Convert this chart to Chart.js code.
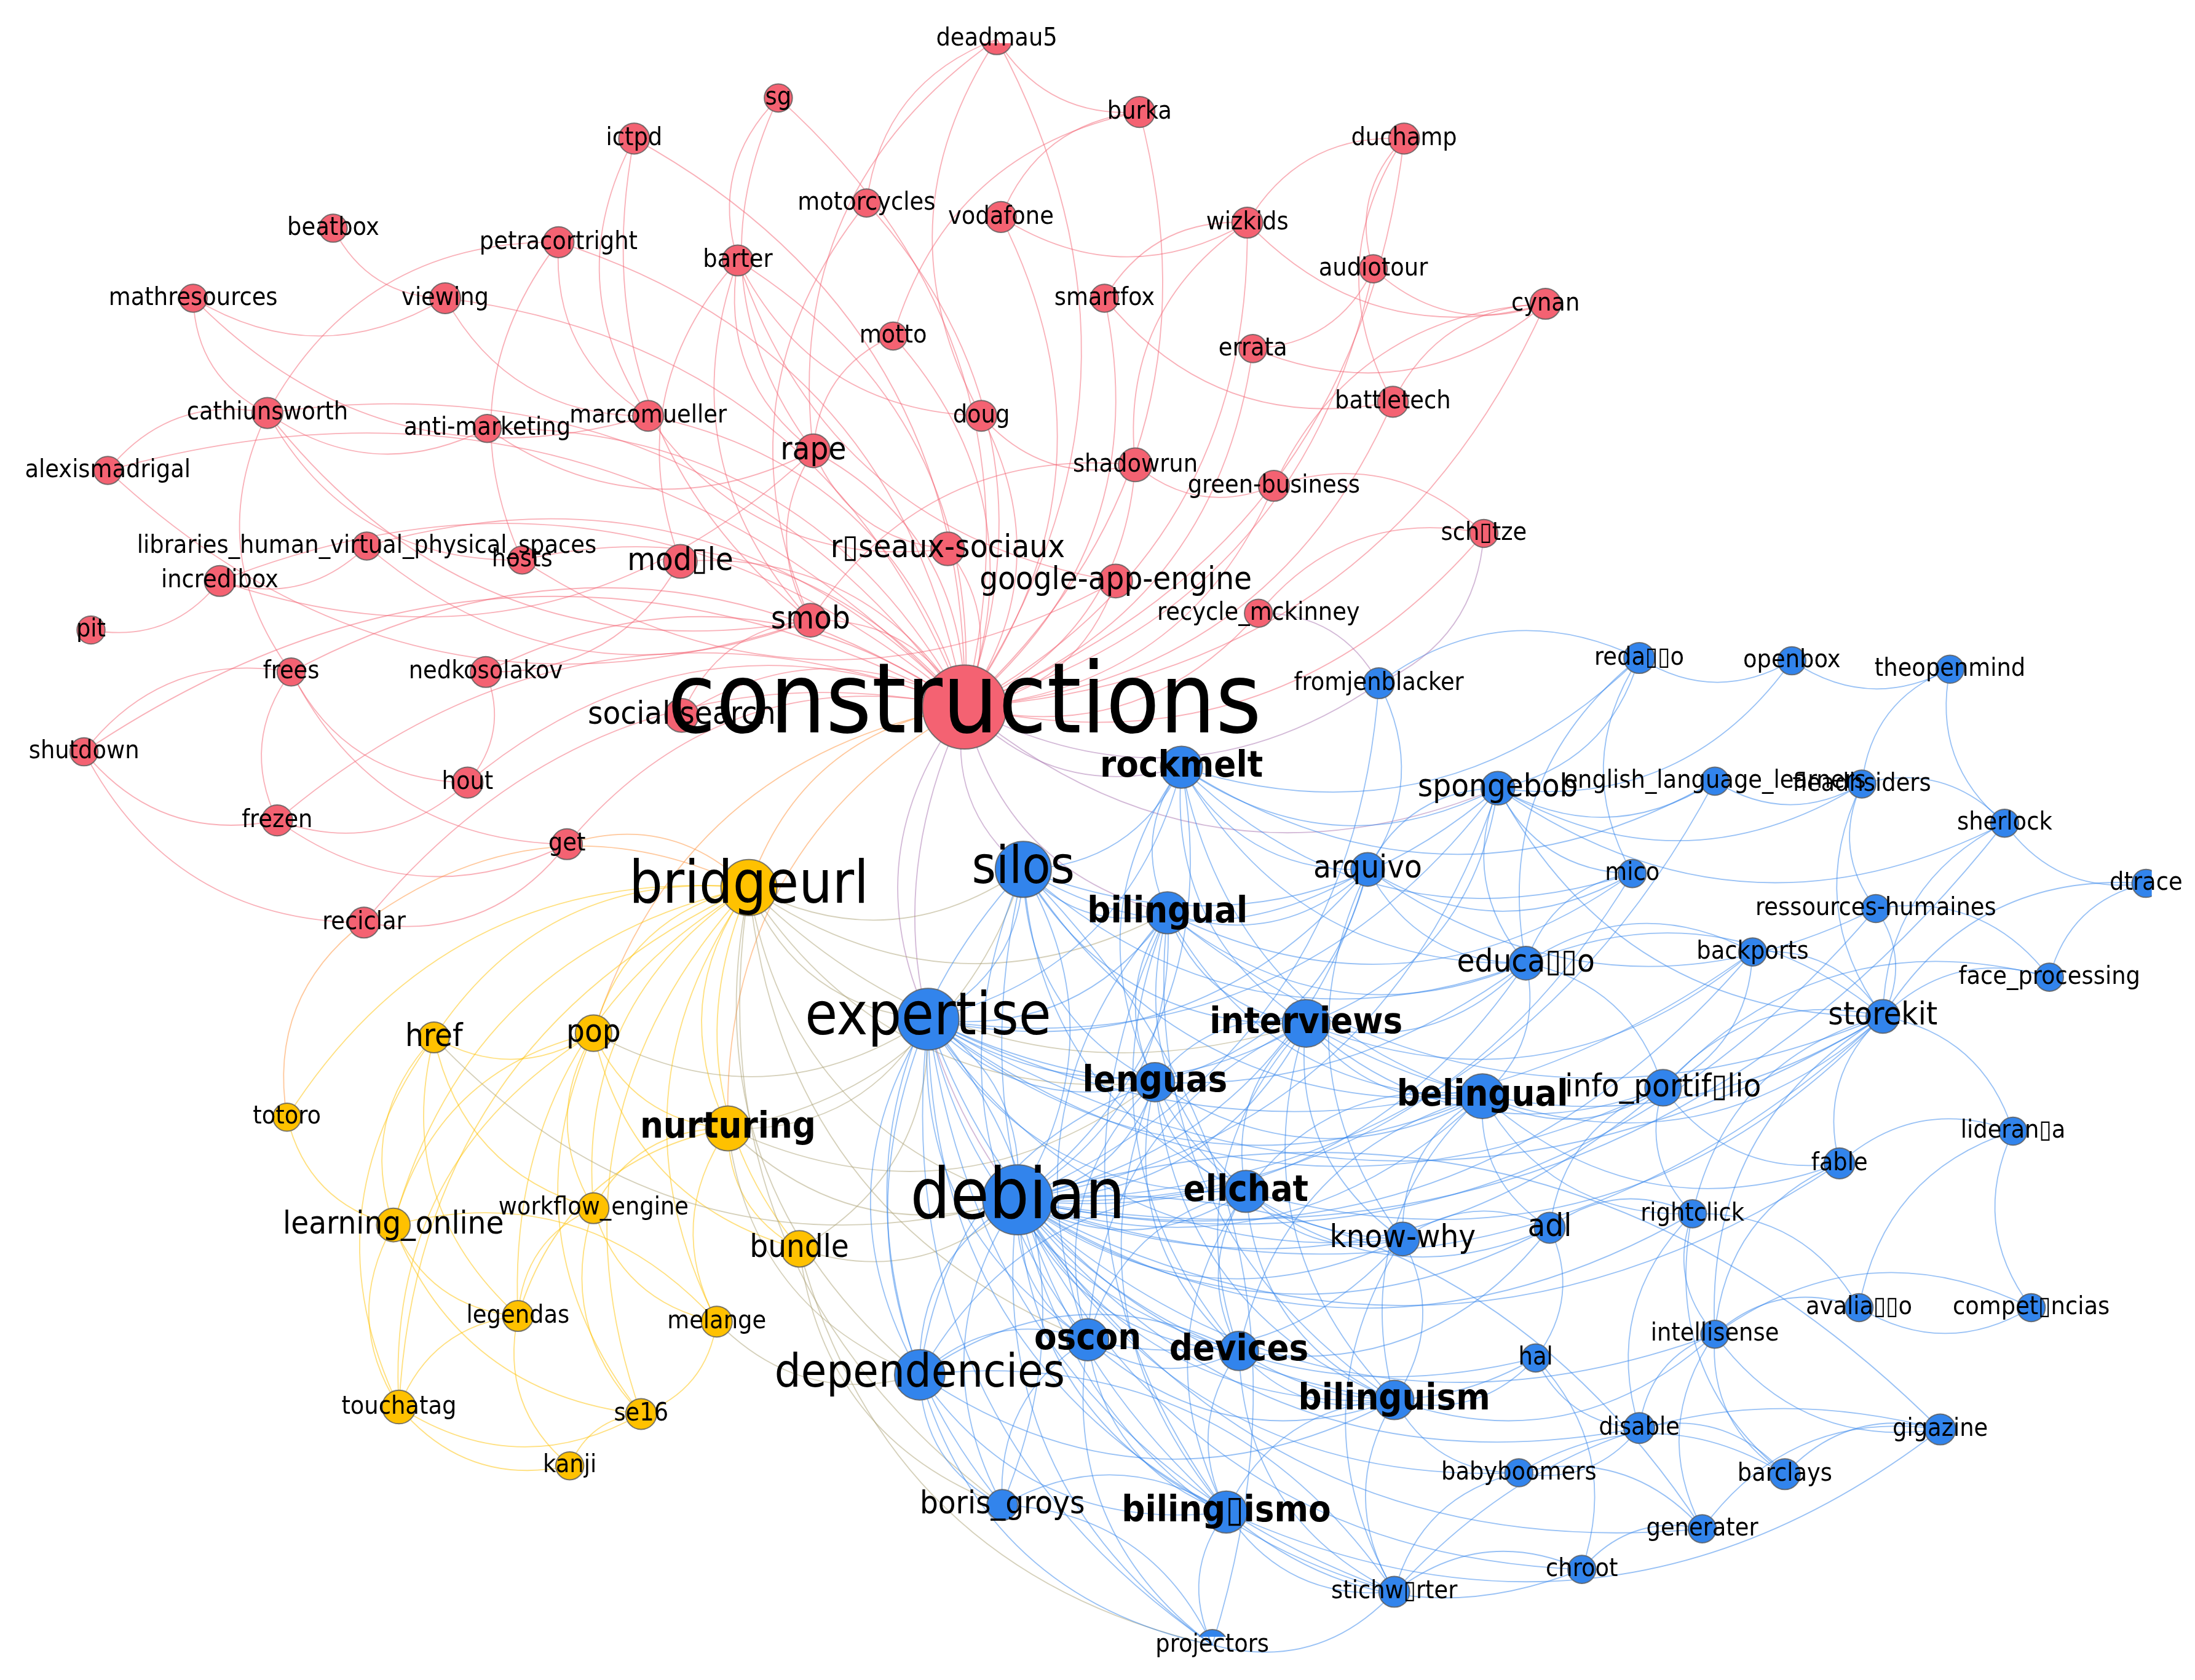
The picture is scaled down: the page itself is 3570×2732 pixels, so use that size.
<!DOCTYPE html>
<html>
<head>
<meta charset="utf-8">
<script src="https://cdn.jsdelivr.net/npm/chart.js@4.4.0/dist/chart.umd.min.js"></script>
<style>
  html, body { margin: 0; padding: 0; background: #fff; }
  #wrap { width: 3570px; height: 2732px; }
</style>
</head>
<body>
<div id="wrap"><canvas id="net"></canvas></div>
<script>
// Nodos: nombre, x, y (coordenadas de la imagen), tamaño, grupo (r/y/b)
const B = '\u25AF';
const nodeNames = ['deadmau5','sg','ictpd','burka','duchamp','motorcycles','vodafone','beatbox','petracortright','barter','wizkids','audiotour','cynan','mathresources','viewing','smartfox','motto','errata','doug','battletech','cathiunsworth','anti-marketing','marcomueller','rape','shadowrun','green-business','alexismadrigal','libraries_human_virtual_physical_spaces','hosts','mod'+B+'le','r'+B+'seaux-sociaux','google-app-engine','sch'+B+'tze','incredibox','pit','smob','recycle_mckinney','frees','nedkosolakov','constructions','social search','shutdown','hout','frezen','get','reciclar',
  'bridgeurl','href','pop','totoro','nurturing','learning_online','workflow_engine','bundle','legendas','melange','touchatag','se16','kanji',
  'fromjenblacker','reda'+B+B+'o','openbox','theopenmind','rockmelt','spongebob','english_language_learners','fleadhsiders','sherlock','silos','arquivo','mico','dtrace','bilingual','ressources-humaines','backports','educa'+B+B+'o','face_processing','expertise','interviews','storekit','lenguas','belingual','info_portif'+B+'lio','lideran'+B+'a','fable','debian','ellchat','know-why','adl','rightclick','avalia'+B+B+'o','compet'+B+'ncias','intellisense','oscon','devices','hal','dependencies','bilinguism','disable','gigazine','babyboomers','barclays','boris_groys','biling'+B+'ismo','generater','chroot','stichw'+B+'rter','projectors'];
const nodeX = [712,556,453,814,1003,619,715,238,399,527,891,981,1104,138,318,789,638,895,701,995,191,348,463,581,811,910,77,262,373,486,677,797,1060,157,65,579,899,208,347,689,487,60,334,198,405,260,
  535,310,424,205,520,281,424,571,370,512,285,458,407,
  985,1171,1280,1393,844,1070,1225,1330,1432,731,977,1166,1533,834,1340,1252,1090,1464,663,933,1345,825,1059,1188,1438,1314,727,890,1002,1107,1209,1328,1451,1225,777,885,1097,657,996,1171,1386,1085,1275,716,876,1216,1130,996,866];
const nodeY = [28,70,99,80,99,145,155,163,173,186,159,192,217,213,213,213,240,249,297,287,295,306,297,322,332,347,336,390,400,401,392,415,381,415,450,443,438,480,480,505,511,537,559,586,603,659,
  634,741,738,798,806,875,863,892,940,944,1005,1010,1047,
  488,470,472,478,548,563,558,560,588,621,621,624,631,652,649,680,688,698,728,731,726,773,783,777,808,831,857,851,885,877,867,934,934,953,957,965,970,982,1000,1020,1021,1052,1053,1075,1080,1092,1121,1137,1175];
const nodeSize = [11,10,11,11,11,10,11,10,11,11,11,10,11,10,11,10,10,10,11,11,11,10,11,12,12,11,10,10,10,12,12,12,10,11,10,12,10,10,11,30,12,10,11,11,11,11,
  20,11,13,10,16,12,11,13,11,11,12,11,10,
  11,11,10,10,15,12,10,10,10,20,12,10,10,15,10,10,12,10,22,17,12,14,16,13,10,11,25,15,12,11,10,10,10,10,15,14,10,18,14,11,11,10,11,11,15,10,10,11,11];
const nodeGroup = ['r','r','r','r','r','r','r','r','r','r','r','r','r','r','r','r','r','r','r','r','r','r','r','r','r','r','r','r','r','r','r','r','r','r','r','r','r','r','r','r','r','r','r','r','r','r',
  'y','y','y','y','y','y','y','y','y','y','y','y','y',
  'b','b','b','b','b','b','b','b','b','b','b','b','b','b','b','b','b','b','b','b','b','b','b','b','b','b','b','b','b','b','b','b','b','b','b','b','b','b','b','b','b','b','b','b','b','b','b','b','b'];
const bigLabels = { 'constructions': 70, 'debian': 50, 'expertise': 42, 'bridgeurl': 42, 'silos': 37, 'dependencies': 33 };
const boldLabels = ['rockmelt','bilingual','interviews','lenguas','belingual','ellchat','oscon','devices','bilinguism','biling'+B+'ismo','nurturing'];
const midLabels = ['spongebob','arquivo','storekit','know-why','educa'+B+B+'o','info_portif'+B+'lio','boris_groys','bundle','learning_online','pop','href','mod'+B+'le','r'+B+'seaux-sociaux','google-app-engine','rape','smob','social search','adl'];

// Aristas por nodo central
const linksConstructions = ['deadmau5','sg','ictpd','burka','duchamp','motorcycles','vodafone','petracortright','barter','wizkids','audiotour','cynan','viewing','smartfox','motto','errata','doug','battletech','cathiunsworth','anti-marketing','marcomueller','rape','shadowrun','green-business','alexismadrigal','libraries_human_virtual_physical_spaces','hosts','mod'+B+'le','r'+B+'seaux-sociaux','google-app-engine','sch'+B+'tze','incredibox','smob','recycle_mckinney','frees','nedkosolakov','social search','shutdown','hout','frezen','get','reciclar','bridgeurl','silos','expertise','debian','rockmelt','fromjenblacker','nurturing','bilingual','pop','spongebob'];
const linksRed = [['deadmau5','motorcycles'],['deadmau5','rape'],['deadmau5','burka'],['deadmau5','doug'],['sg','barter'],['sg','rape'],['ictpd','marcomueller'],['ictpd','smob'],['burka','vodafone'],['burka','motto'],['duchamp','audiotour'],['duchamp','wizkids'],['duchamp','battletech'],['wizkids','cynan'],['wizkids','smartfox'],['wizkids','shadowrun'],['audiotour','cynan'],['cynan','green-business'],['cynan','battletech'],['errata','cynan'],['errata','audiotour'],['petracortright','cathiunsworth'],['petracortright','marcomueller'],['petracortright','hosts'],['mathresources','viewing'],['mathresources','cathiunsworth'],['viewing','marcomueller'],['cathiunsworth','alexismadrigal'],['cathiunsworth','anti-marketing'],['cathiunsworth','hosts'],['cathiunsworth','smob'],['barter','rape'],['barter','smob'],['barter','doug'],['barter','mod'+B+'le'],['barter','google-app-engine'],['motto','rape'],['doug','shadowrun'],['shadowrun','smob'],['shadowrun','green-business'],['pit','incredibox'],['incredibox','libraries_human_virtual_physical_spaces'],['incredibox','rape'],['frees','frezen'],['frees','hout'],['frees','shutdown'],['shutdown','reciclar'],['shutdown','frezen'],['frezen','hout'],['frezen','get'],['hout','nedkosolakov'],['reciclar','get'],['reciclar','totoro'],['sch'+B+'tze','recycle_mckinney'],['sch'+B+'tze','green-business'],['rape','smob'],['rape','r'+B+'seaux-sociaux'],['smartfox','battletech'],['anti-marketing','rape'],['marcomueller','r'+B+'seaux-sociaux'],['libraries_human_virtual_physical_spaces','smob'],['nedkosolakov','mod'+B+'le'],['smob','social search'],['vodafone','wizkids'],['motorcycles','smob'],['hosts','google-app-engine'],['frees','get'],['beatbox','viewing'],['cathiunsworth','frees'],['alexismadrigal','smob'],['mathresources','marcomueller']];
const linksBridgeurl = ['href','pop','totoro','nurturing','learning_online','workflow_engine','bundle','legendas','melange','touchatag','se16','silos','expertise','debian','dependencies','lenguas','interviews','oscon','boris_groys','bilingual','get','reciclar'];
const linksYellow = [['href','pop'],['href','learning_online'],['href','touchatag'],['href','legendas'],['href','workflow_engine'],['pop','nurturing'],['pop','learning_online'],['pop','workflow_engine'],['pop','se16'],['pop','touchatag'],['pop','bundle'],['totoro','learning_online'],['nurturing','workflow_engine'],['nurturing','bundle'],['nurturing','melange'],['nurturing','legendas'],['nurturing','expertise'],['nurturing','debian'],['nurturing','dependencies'],['nurturing','silos'],['nurturing','lenguas'],['learning_online','legendas'],['learning_online','touchatag'],['learning_online','se16'],['workflow_engine','legendas'],['workflow_engine','se16'],['workflow_engine','melange'],['legendas','touchatag'],['legendas','kanji'],['touchatag','se16'],['touchatag','kanji'],['se16','kanji'],['se16','melange'],['melange','dependencies'],['bundle','debian'],['bundle','expertise'],['bundle','projectors'],['bundle','boris_groys'],['melange','learning_online'],['href','debian'],['pop','expertise']];
const linksDebian = ['silos','expertise','rockmelt','bilingual','interviews','lenguas','belingual','ellchat','oscon','devices','dependencies','bilinguism','biling'+B+'ismo','boris_groys','projectors','stichw'+B+'rter','know-why','adl','spongebob','arquivo','educa'+B+B+'o','info_portif'+B+'lio','storekit','mico','hal','disable','babyboomers','intellisense','rightclick','fable','chroot','generater','backports','fromjenblacker','ressources-humaines','english_language_learners'];
const linksExpertise = ['silos','rockmelt','bilingual','interviews','lenguas','belingual','ellchat','oscon','devices','dependencies','bilinguism','biling'+B+'ismo','boris_groys','projectors','know-why','arquivo','spongebob','educa'+B+B+'o','stichw'+B+'rter','info_portif'+B+'lio','storekit'];
const linksHubs = [
  ['silos','rockmelt'],['silos','bilingual'],['silos','interviews'],['silos','lenguas'],['silos','dependencies'],['silos','oscon'],['silos','arquivo'],['silos','spongebob'],['silos','belingual'],['silos','ellchat'],['silos','biling'+B+'ismo'],
  ['rockmelt','bilingual'],['rockmelt','spongebob'],['rockmelt','arquivo'],['rockmelt','interviews'],['rockmelt','reda'+B+B+'o'],['rockmelt','english_language_learners'],['rockmelt','educa'+B+B+'o'],['rockmelt','lenguas'],['rockmelt','belingual'],
  ['bilingual','interviews'],['bilingual','lenguas'],['bilingual','belingual'],['bilingual','ellchat'],['bilingual','arquivo'],['bilingual','oscon'],['bilingual','devices'],['bilingual','bilinguism'],['bilingual','biling'+B+'ismo'],['bilingual','mico'],['bilingual','educa'+B+B+'o'],
  ['interviews','lenguas'],['interviews','belingual'],['interviews','ellchat'],['interviews','know-why'],['interviews','info_portif'+B+'lio'],['interviews','storekit'],['interviews','devices'],['interviews','oscon'],['interviews','bilinguism'],['interviews','educa'+B+B+'o'],['interviews','backports'],
  ['lenguas','belingual'],['lenguas','ellchat'],['lenguas','oscon'],['lenguas','devices'],['lenguas','bilinguism'],['lenguas','biling'+B+'ismo'],['lenguas','dependencies'],['lenguas','know-why'],
  ['belingual','ellchat'],['belingual','know-why'],['belingual','adl'],['belingual','info_portif'+B+'lio'],['belingual','bilinguism'],['belingual','devices'],['belingual','storekit'],['belingual','rightclick'],['belingual','educa'+B+B+'o'],['belingual','fable'],
  ['ellchat','oscon'],['ellchat','devices'],['ellchat','bilinguism'],['ellchat','biling'+B+'ismo'],['ellchat','know-why'],['ellchat','adl'],['ellchat','dependencies'],
  ['oscon','devices'],['oscon','dependencies'],['oscon','bilinguism'],['oscon','biling'+B+'ismo'],['oscon','projectors'],['oscon','boris_groys'],
  ['devices','bilinguism'],['devices','biling'+B+'ismo'],['devices','dependencies'],['devices','stichw'+B+'rter'],['devices','hal'],
  ['dependencies','biling'+B+'ismo'],['dependencies','boris_groys'],['dependencies','projectors'],['dependencies','bilinguism'],
  ['bilinguism','biling'+B+'ismo'],['bilinguism','stichw'+B+'rter'],['bilinguism','babyboomers'],['bilinguism','hal'],['bilinguism','know-why'],['bilinguism','intellisense'],
  ['biling'+B+'ismo','projectors'],['biling'+B+'ismo','stichw'+B+'rter'],['biling'+B+'ismo','boris_groys'],['biling'+B+'ismo','chroot'],['biling'+B+'ismo','gigazine'],
  ['spongebob','arquivo'],['spongebob','english_language_learners'],['spongebob','fleadhsiders'],['spongebob','reda'+B+B+'o'],['spongebob','openbox'],['spongebob','mico'],['spongebob','educa'+B+B+'o'],['spongebob','storekit'],['spongebob','sherlock'],
  ['arquivo','mico'],['arquivo','educa'+B+B+'o'],['arquivo','know-why'],['arquivo','ressources-humaines'],['arquivo','fromjenblacker'],
  ['reda'+B+B+'o','openbox'],['reda'+B+B+'o','mico'],['reda'+B+B+'o','educa'+B+B+'o'],['reda'+B+B+'o','fromjenblacker'],['openbox','theopenmind'],['theopenmind','fleadhsiders'],['theopenmind','sherlock'],
  ['sherlock','dtrace'],['sherlock','storekit'],['sherlock','fleadhsiders'],['dtrace','face_processing'],['dtrace','storekit'],['face_processing','storekit'],['face_processing','info_portif'+B+'lio'],['face_processing','ressources-humaines'],
  ['storekit','info_portif'+B+'lio'],['storekit','fable'],['storekit','backports'],['storekit','educa'+B+B+'o'],['storekit','ressources-humaines'],['storekit','rightclick'],['storekit','intellisense'],
  ['info_portif'+B+'lio','educa'+B+B+'o'],['info_portif'+B+'lio','backports'],['info_portif'+B+'lio','rightclick'],['info_portif'+B+'lio','adl'],['info_portif'+B+'lio','fable'],
  ['lideran'+B+'a','compet'+B+'ncias'],['lideran'+B+'a','avalia'+B+B+'o'],['lideran'+B+'a','storekit'],['lideran'+B+'a','fable'],['avalia'+B+B+'o','compet'+B+'ncias'],['avalia'+B+B+'o','intellisense'],['avalia'+B+B+'o','rightclick'],['compet'+B+'ncias','intellisense'],
  ['rightclick','intellisense'],['rightclick','adl'],['rightclick','disable'],['rightclick','barclays'],['intellisense','barclays'],['intellisense','disable'],['intellisense','gigazine'],['intellisense','generater'],
  ['gigazine','barclays'],['gigazine','stichw'+B+'rter'],['gigazine','generater'],['barclays','disable'],['barclays','babyboomers'],['generater','babyboomers'],['generater','chroot'],['chroot','stichw'+B+'rter'],['chroot','hal'],
  ['babyboomers','disable'],['babyboomers','stichw'+B+'rter'],['hal','disable'],['hal','adl'],['adl','know-why'],['know-why','stichw'+B+'rter'],['projectors','stichw'+B+'rter'],['projectors','boris_groys'],
  ['fromjenblacker','sch'+B+'tze'],['fromjenblacker','recycle_mckinney'],['mico','educa'+B+B+'o'],['backports','educa'+B+B+'o'],['english_language_learners','fleadhsiders'],['fleadhsiders','ressources-humaines'],['fleadhsiders','storekit'],['fable','intellisense'],
  ['boris_groys','expertise'],['projectors','silos'],['stichw'+B+'rter','dependencies'],['generater','debian'],['gigazine','debian'],
  ['interviews','spongebob'],['lenguas','arquivo'],['ellchat','storekit'],['debian','sherlock'],['silos','educa'+B+B+'o'],['expertise','backports'],['bilingual','storekit'],['rockmelt','mico'],['oscon','know-why'],['devices','adl']
];

const COLORS = { r: [244, 98, 114], y: [255, 193, 0], b: [50, 132, 236] };
const S = 3570 / 1568;
const PAD = (30 * S + 2) / S;   // compensa el margen que Chart.js deja por el radio de los puntos
const idx = name => nodeNames.indexOf(name);

const allEdges = [];
linksConstructions.forEach(n => allEdges.push(['constructions', n]));
linksRed.forEach(e => allEdges.push(e));
linksBridgeurl.forEach(n => allEdges.push(['bridgeurl', n]));
linksYellow.forEach(e => allEdges.push(e));
linksDebian.forEach(n => allEdges.push(['debian', n]));
linksExpertise.forEach(n => allEdges.push(['expertise', n]));
linksHubs.forEach(e => allEdges.push(e));

const edgePlugin = {
  id: 'edges',
  beforeDatasetsDraw(chart) {
    const { ctx, scales: { x, y } } = chart;
    ctx.save();
    ctx.lineWidth = 1.8;
    allEdges.forEach(([a, b]) => {
      const i = idx(a), j = idx(b);
      if (i < 0 || j < 0) return;
      const x1 = x.getPixelForValue(nodeX[i]), y1 = y.getPixelForValue(nodeY[i]);
      const x2 = x.getPixelForValue(nodeX[j]), y2 = y.getPixelForValue(nodeY[j]);
      const c1 = COLORS[nodeGroup[i]], c2 = COLORS[nodeGroup[j]];
      let c = c1;
      if (nodeGroup[i] !== nodeGroup[j]) c = [(c1[0] + c2[0]) / 2 + 20, (c1[1] + c2[1]) / 2, (c1[2] + c2[2]) / 2];
      ctx.strokeStyle = `rgba(${c[0]|0},${c[1]|0},${c[2]|0},0.5)`;
      const mx = (x1 + x2) / 2, my = (y1 + y2) / 2;
      const dx = x2 - x1, dy = y2 - y1;
      ctx.beginPath();
      ctx.moveTo(x1, y1);
      ctx.quadraticCurveTo(mx - dy * 0.3, my + dx * 0.3, x2, y2);
      ctx.stroke();
    });
    ctx.restore();
  }
};

const labelPlugin = {
  id: 'labels',
  afterDatasetsDraw(chart) {
    const { ctx, scales: { x, y } } = chart;
    ctx.save();
    ctx.textAlign = 'center';
    ctx.textBaseline = 'middle';
    ctx.fillStyle = '#000';
    nodeNames.forEach((n, i) => {
      let size = 18, weight = 'normal';
      if (bigLabels[n]) size = bigLabels[n];
      else if (boldLabels.includes(n)) { size = 26; weight = 'bold'; }
      else if (midLabels.includes(n)) size = 23;
      ctx.font = `${weight} ${size * S}px "DejaVu Sans Condensed", "DejaVu Sans", sans-serif`;
      ctx.fillText(n, x.getPixelForValue(nodeX[i]), y.getPixelForValue(nodeY[i]));
    });
    ctx.restore();
  }
};

new Chart(document.getElementById('net'), {
  type: 'scatter',
  data: {
    datasets: [{
      data: nodeNames.map((n, i) => ({ x: nodeX[i], y: nodeY[i] })),
      pointRadius: nodeSize.map(r => r * S),
      pointBackgroundColor: nodeGroup.map(g => `rgb(${COLORS[g].join(',')})`),
      pointBorderColor: 'rgba(90,90,90,0.8)',
      pointBorderWidth: 2
    }]
  },
  options: {
    responsive: true,
    maintainAspectRatio: false,
    animation: false,
    layout: { padding: 0 },
    plugins: { legend: { display: false }, tooltip: { enabled: false } },
    scales: {
      x: { type: 'linear', min: PAD, max: 1568 - PAD, display: false },
      y: { type: 'linear', min: PAD, max: 1200 - PAD, reverse: true, display: false }
    }
  },
  plugins: [edgePlugin, labelPlugin]
});
</script>
</body>
</html>
